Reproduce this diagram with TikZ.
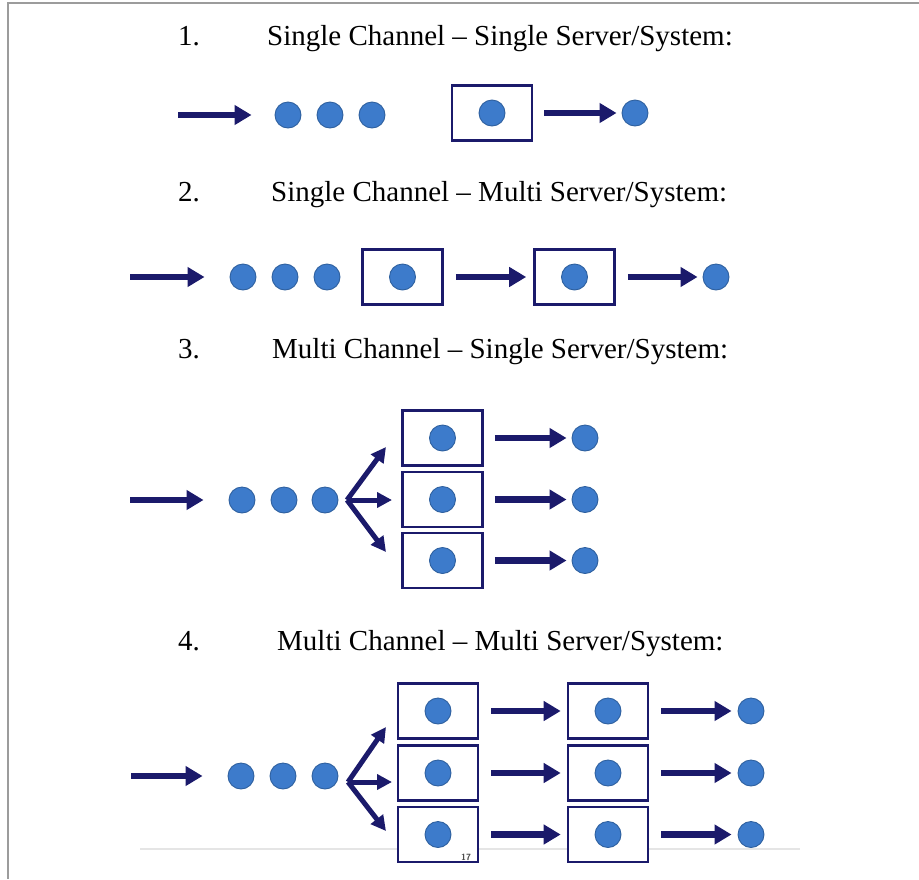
\documentclass[tikz,border=0pt]{standalone}
\usepackage{fontspec}
\setmainfont{Liberation Serif}
\usetikzlibrary{arrows.meta,positioning}
\definecolor{navy}{HTML}{1B1A6B}
\definecolor{dotblue}{HTML}{3D7BCB}
\definecolor{dotedge}{HTML}{2E609F}
\definecolor{framegray}{HTML}{9C9C9C}

\tikzset{
  qdot/.style={circle,fill=dotblue,draw=dotedge,line width=0.9pt,minimum size=26pt,inner sep=0pt},
  srv/.style={draw=navy,fill=white,line width=2.6pt,minimum width=80pt,minimum height=55pt,inner sep=0pt},
  flow/.style={navy,line width=6.5pt,-{Triangle[length=17pt,width=19pt]}},
  fork/.style={navy,line width=5pt,-{Triangle[length=15pt,width=15pt]}},
  heading/.style={font=\fontsize{29}{34}\selectfont,anchor=base west,inner sep=0pt},
}

\begin{document}
\begin{tikzpicture}[x=1pt,y=-1pt]
  \useasboundingbox (0,0) rectangle (919,879);
  % frame
  \draw[framegray,line width=1.5pt] (919,3) -- (8,3) -- (8,879);

  % headings
  \foreach \n/\txt/\xt/\yb in {%
      1/{Single Channel -- Single Server/System:}/267/45,
      2/{Single Channel -- Multi Server/System:}/271/201,
      3/{Multi Channel -- Single Server/System:}/272/358,
      4/{Multi Channel -- Multi Server/System:}/277/650}{
    \node[heading] (n\n) at (178,\yb) {\n.};
    \node[heading] (h\n) at (\xt,\yb) {\txt};
  }

  % 1. single channel, single server
  \coordinate (s1) at (178,115);
  \foreach \x [count=\i] in {288,330,372}
    \node[qdot] (q1\i) at (\x,115) {};
  \node[srv] (k1) at (492,113) {};
  \node[qdot] (d1) at (k1) {};
  \node[qdot] (o1) at (635,113) {};
  \draw[flow,shorten >=23pt] (s1) -- (q11);
  \draw[flow,shorten <=11pt,shorten >=5pt] (k1) -- (o1);

  % 2. single channel, multi server
  \coordinate (s2) at (130,277);
  \foreach \x [count=\i] in {243,285,327}
    \node[qdot] (q2\i) at (\x,277) {};
  \node[srv] (k21) at (402.5,277) {};
  \node[srv] (k22) at (574.5,277) {};
  \node[qdot] (d21) at (k21) {};
  \node[qdot] (d22) at (k22) {};
  \node[qdot] (o2) at (716,277) {};
  \draw[flow,shorten >=25pt] (s2) -- (q21);
  \draw[flow,shorten <=12pt,shorten >=7pt] (k21) -- (k22);
  \draw[flow,shorten <=12pt,shorten >=5pt] (k22) -- (o2);

  % 3. multi channel, single server
  \coordinate (s3) at (130,500);
  \foreach \x [count=\i] in {242,284,325}
    \node[qdot] (q3\i) at (\x,500) {};
  \draw[flow,shorten >=25pt] (s3) -- (q31);
  \coordinate (b3) at (347,500);
  \foreach \yk/\xf/\yf [count=\i] in {438/386/447, 499.5/392/500, 560.5/386/552}{
    \node[srv] (k3\i) at (442.5,\yk) {};
    \node[qdot] (d3\i) at (k3\i) {};
    \node[qdot] (o3\i) at (585,\yk) {};
    \coordinate (f3\i) at (\xf,\yf);
    \draw[fork] (b3) -- (f3\i);
    \draw[flow,shorten <=11pt,shorten >=5pt] (k3\i) -- (o3\i);
  }

  % 4. multi channel, multi server
  \draw[black!10,line width=1.5pt] (140,849) -- (800,849);
  \coordinate (s4) at (131,776);
  \foreach \x [count=\i] in {241,283,325}
    \node[qdot] (q4\i) at (\x,776) {};
  \draw[flow,shorten >=25pt] (s4) -- (q41);
  \coordinate (b4) at (348,782);
  \foreach \yk/\xf/\yf [count=\i] in {711/386/727, 773/392/782, 834.5/386/831}{
    \node[srv] (k4\i a) at (438,\yk) {};
    \node[srv] (k4\i b) at (608,\yk) {};
    \node[qdot] (d4\i a) at (k4\i a) {};
    \node[qdot] (d4\i b) at (k4\i b) {};
    \node[qdot] (o4\i) at (751,\yk) {};
    \coordinate (f4\i) at (\xf,\yf);
    \draw[fork] (b4) -- (f4\i);
    \draw[flow,shorten <=12pt,shorten >=6pt] (k4\i a) -- (k4\i b);
    \draw[flow,shorten <=12pt,shorten >=6pt] (k4\i b) -- (o4\i);
  }
  \node[font=\sffamily\bfseries\fontsize{9}{9}\selectfont,text=black!70,inner sep=0pt] (pg) at (466,857) {17};
\end{tikzpicture}
\end{document}
